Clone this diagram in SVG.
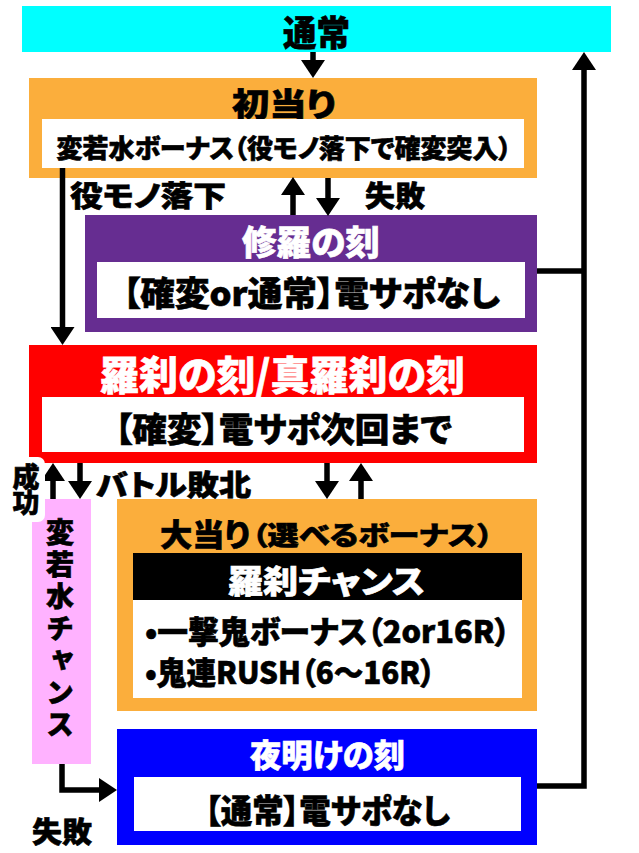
<svg xmlns="http://www.w3.org/2000/svg" width="639" height="853" viewBox="0 0 639 853">
<style>
text{font-family:"Noto Sans CJK JP","Noto Sans CJK SC",sans-serif;font-weight:900;fill:#000;stroke:#000;stroke-width:0.6;font-feature-settings:"palt" 1}
.w{fill:#fff;stroke:#fff}
.c{text-anchor:middle}
.v{writing-mode:vertical-rl;text-orientation:upright}
.ln{stroke:#000;stroke-width:5.5;fill:none}
.box-white{fill:#fff}
</style>
<defs>
<marker id="ah" viewBox="0 0 18 24" refX="0" refY="12" markerWidth="18" markerHeight="24" markerUnits="userSpaceOnUse" orient="auto">
<path d="M0,0 L18,12 L0,24 Z" fill="#000"/>
</marker>
</defs>
<rect width="639" height="853" fill="#fff"/>

<g id="node-tsujo">
<rect x="22" y="6" width="589" height="46" fill="#00FFFF"/>
<text x="316.5" y="46" class="c" font-size="35" textLength="67" lengthAdjust="spacingAndGlyphs">通常</text>
</g>

<g id="node-hatsuatari">
<rect x="29" y="78" width="508" height="100" fill="#FBAE3C"/>
<text x="284" y="116" class="c" font-size="32" textLength="104" lengthAdjust="spacingAndGlyphs">初当り</text>
<rect x="42" y="119" width="482" height="49" class="box-white"/>
<text x="284" y="158" class="c" font-size="26" textLength="455" lengthAdjust="spacingAndGlyphs">変若水ボーナス（役モノ落下で確変突入）</text>
</g>

<g id="node-shura">
<rect x="85" y="215" width="452" height="117" fill="#662D91"/>
<text x="311" y="255" class="c w" font-size="34" textLength="138" lengthAdjust="spacingAndGlyphs">修羅の刻</text>
<rect x="97" y="262" width="428" height="56" class="box-white"/>
<text x="311.5" y="306" class="c" font-size="34" textLength="377" lengthAdjust="spacingAndGlyphs">【確変or通常】電サポなし</text>
</g>

<g id="node-rasetsu">
<rect x="29" y="345" width="508" height="118" fill="#FF0000"/>
<text x="282.5" y="390" class="c w" font-size="40" textLength="365" lengthAdjust="spacingAndGlyphs">羅刹の刻/真羅刹の刻</text>
<rect x="42" y="397" width="482" height="55" class="box-white"/>
<text x="283.5" y="442" class="c" font-size="34" textLength="337" lengthAdjust="spacingAndGlyphs">【確変】電サポ次回まで</text>
</g>

<g id="node-ochimizu-chance">
<rect x="32" y="499" width="59" height="265" fill="#FFB2FF"/>
<text x="60" y="518" class="v" font-size="28" letter-spacing="4">変若水チャンス</text>
</g>

<g id="node-ooatari">
<rect x="117" y="499" width="420" height="212" fill="#FBAE3C"/>
<text x="160" y="546" font-size="31" textLength="90" lengthAdjust="spacingAndGlyphs">大当り</text>
<text x="252" y="545" font-size="26" textLength="241" lengthAdjust="spacingAndGlyphs">（選べるボーナス）</text>
<rect x="133" y="553" width="389" height="47" fill="#000"/>
<text x="326.5" y="593" class="c w" font-size="32" textLength="197" lengthAdjust="spacingAndGlyphs">羅刹チャンス</text>
<rect x="133" y="600" width="389" height="98" class="box-white"/>
<text x="145" y="643" font-size="31" textLength="365" lengthAdjust="spacingAndGlyphs">•一撃鬼ボーナス（2or16R）</text>
<text x="145" y="684" font-size="31" textLength="290" lengthAdjust="spacingAndGlyphs">•鬼連RUSH（6〜16R）</text>
</g>

<g id="node-yoake">
<rect x="117" y="729" width="420" height="116" fill="#0000FF"/>
<text x="327.5" y="767" class="c w" font-size="32" textLength="155" lengthAdjust="spacingAndGlyphs">夜明けの刻</text>
<rect x="134" y="777" width="387" height="54" class="box-white"/>
<text x="327.5" y="823" class="c" font-size="33" textLength="245" lengthAdjust="spacingAndGlyphs">【通常】電サポなし</text>
</g>

<g id="connectors">
<line x1="313" y1="52" x2="313" y2="60" class="ln" marker-end="url(#ah)"/>
<line x1="62.5" y1="168" x2="62.5" y2="327" class="ln" marker-end="url(#ah)"/>
<line x1="293" y1="215" x2="293" y2="195" class="ln" marker-end="url(#ah)"/>
<line x1="328" y1="178" x2="328" y2="198" class="ln" marker-end="url(#ah)"/>
<polyline points="537,271 584,271" class="ln"/>
<polyline points="537,786 584,786 584,70" class="ln" marker-end="url(#ah)"/>
<line x1="53" y1="499" x2="53" y2="481" class="ln" marker-end="url(#ah)"/>
<line x1="80" y1="463" x2="80" y2="481" class="ln" marker-end="url(#ah)"/>
<line x1="327" y1="463" x2="327" y2="481" class="ln" marker-end="url(#ah)"/>
<line x1="361" y1="499" x2="361" y2="481" class="ln" marker-end="url(#ah)"/>
<polyline points="62,764 62,790 99,790" class="ln" marker-end="url(#ah)"/>
</g>

<g id="labels">
<rect x="5" y="457" width="40" height="65" rx="7" fill="#fff"/>
<text x="70" y="207" font-size="29" textLength="156" lengthAdjust="spacingAndGlyphs">役モノ落下</text>
<text x="365" y="207" font-size="29" textLength="60" lengthAdjust="spacingAndGlyphs">失敗</text>
<text x="26" y="463" class="v" font-size="27" letter-spacing="-1">成功</text>
<text x="96" y="496" font-size="29" textLength="155" lengthAdjust="spacingAndGlyphs">バトル敗北</text>
<text x="32" y="843" font-size="29" textLength="60" lengthAdjust="spacingAndGlyphs">失敗</text>
</g>
</svg>
